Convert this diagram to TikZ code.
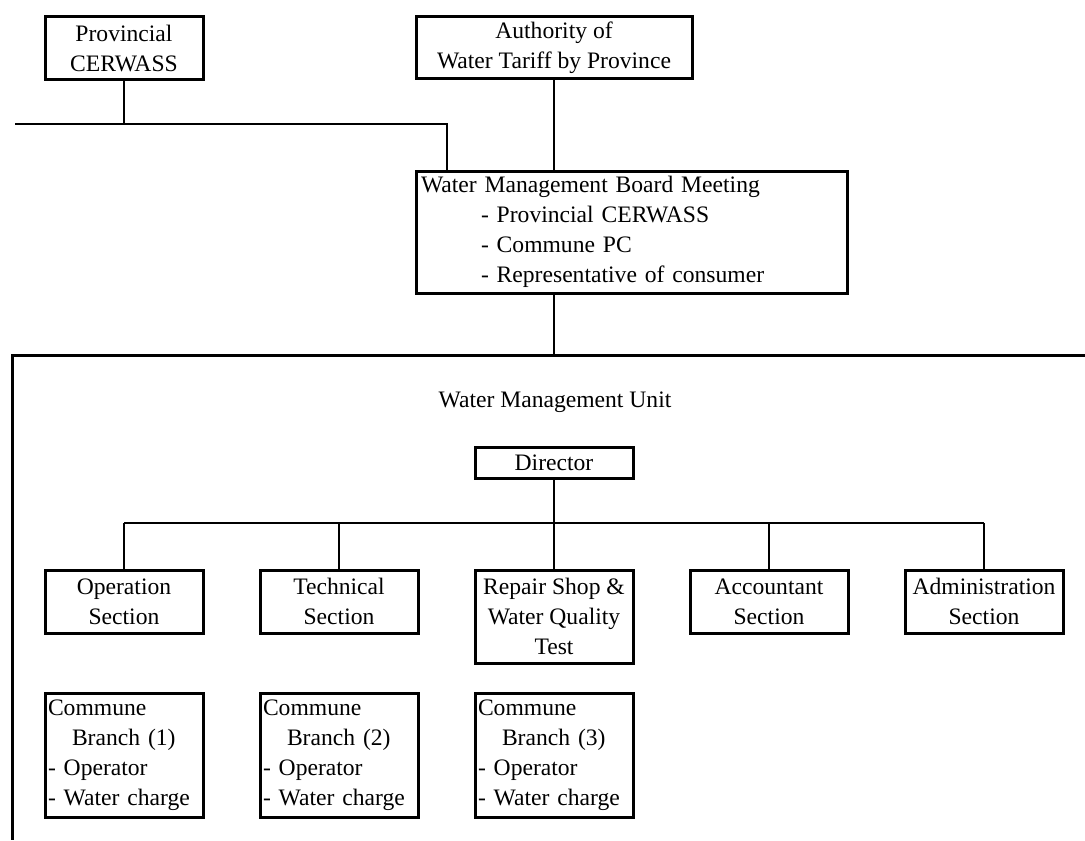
\documentclass[tikz,border=0pt]{standalone}
\usepackage{fontspec}
\setmainfont{Liberation Serif}
\usetikzlibrary{positioning, calc}

\begin{document}
\begin{tikzpicture}[
    x=0.5pt, y=-0.5pt,
    node distance=30pt and 28.5pt,
    every node/.style={font=\fontsize{11.8}{15}\selectfont},
    unitbox/.style={rectangle, draw=black, line width=1.5pt, align=center, inner sep=1pt, outer sep=0pt, minimum width=79pt, minimum height=31.5pt},
    listbox/.style={unitbox, align=left, inner xsep=1.5pt, text width=76pt, minimum height=62pt},
    link/.style={line width=1pt, black},
    unitframe/.style={line width=1.5pt, black}
]
\useasboundingbox (0,0) rectangle (1085,840);

% Top: provincial level
\node[unitbox] (prov) at (124,48.5) {Provincial\\CERWASS};
\node[unitbox, minimum width=138pt, minimum height=31pt] (auth) at (554,48) {Authority of\\Water Tariff by Province};

% Board meeting
\node[unitbox, align=left, inner xsep=2.5pt, text width=210.5pt, minimum height=61pt] (board) at (631.5,232) {Water Management Board Meeting\\
\hspace*{30pt}- Provincial CERWASS\\
\hspace*{30pt}- Commune PC\\
\hspace*{30pt}- Representative of consumer};

% Water Management Unit (open frame)
\coordinate (unitNW) at (12,355);
\coordinate (unitNE) at (1085,355);
\coordinate (unitSW) at (12,840);
\draw[unitframe] (unitNE) -- (unitNW) -- (unitSW);
\node (unit) at (555,402) {Water Management Unit};

\node[unitbox, minimum height=15.5pt] (dir) at (554,462.5) {Director};

% Sections
\node[unitbox, anchor=north] (op) at (124,570) {Operation\\Section};
\node[unitbox, right=of op.north east, anchor=north west] (tech) {Technical\\Section};
\node[unitbox, right=of tech.north east, anchor=north west, minimum height=46.5pt] (rep) {Repair Shop \&\\Water Quality\\Test};
\node[unitbox, right=of rep.north east, anchor=north west] (acc) {Accountant\\Section};
\node[unitbox, right=of acc.north east, anchor=north west] (adm) {Administration\\Section};

% Commune branches
\node[listbox, below=of op] (br1) {Commune\\ \hspace*{12pt}Branch (1)\\- Operator\\- Water charge};
\node[listbox, right=of br1] (br2) {Commune\\ \hspace*{12pt}Branch (2)\\- Operator\\- Water charge};
\node[listbox, right=of br2] (br3) {Commune\\ \hspace*{12pt}Branch (3)\\- Operator\\- Water charge};

% Links
\coordinate (westEnd) at (15,124);
\coordinate (feed) at (447,124);
\draw[link] (prov.south) -- (prov.south |- feed);
\draw[link] (westEnd) -- (feed) -- (feed |- board.north);
\draw[link] (auth.south) -- (auth.south |- board.north);
\coordinate (unitJoin) at (554,355);
\draw[link] (unitJoin |- board.south) -- (unitJoin);

\coordinate (bus) at (554,523);
\draw[link] (dir.south) -- (dir.south |- rep.north);
\draw[link] (op.north |- bus) -- (adm.north |- bus);
\foreach \s in {op, tech, acc, adm}
    \draw[link] (\s.north |- bus) -- (\s.north);

\end{tikzpicture}
\end{document}
